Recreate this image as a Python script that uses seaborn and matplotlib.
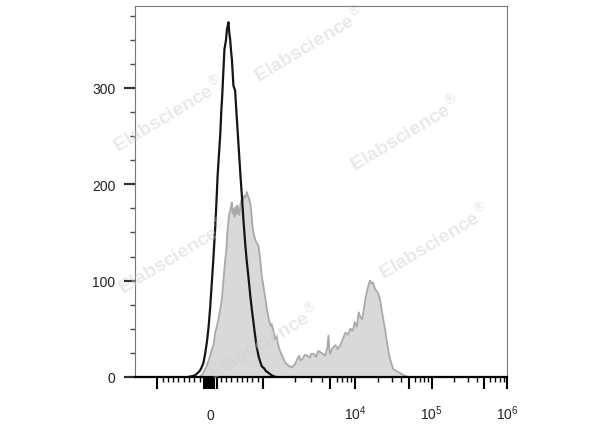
import numpy as np
import matplotlib
matplotlib.use("Agg")
import matplotlib.pyplot as plt
import seaborn as sns

# isotype control histogram (black outline)
black_x = [-420, -330, -280, -240, -200, -170, -130, -95, -60, -30, 0, 30, 60, 95,
           120, 140, 165, 190, 210, 230, 250, 270, 285, 300, 316, 330, 346, 360,
           378, 395, 410, 425, 440, 455, 472, 488, 504, 530, 553, 575, 599, 630,
           660, 690, 723, 755, 788, 820, 849, 880, 913, 945, 976, 1020, 1060,
           1095, 1150, 1220, 1300]
black_y = [0, 1, 2, 4, 6, 9, 14, 24, 37, 52, 72, 97, 122, 155,
           183, 208, 230, 251, 275, 294, 318, 340, 345, 350, 360, 364, 368, 358,
           350, 338, 330, 316, 302, 300, 297, 282, 268, 246, 226, 207, 188, 162,
           140, 121, 104, 86, 70, 56, 43, 31, 22, 16, 11, 9, 6,
           5, 3, 1, 0]

# stained sample histogram (grey filled)
gray_x = [-200, -157, -110, -62, -30, 0, 30, 62, 95, 125, 157, 190, 221, 245,
          264, 285, 302, 315, 326, 342, 358, 375, 392, 410, 425, 440, 460, 478,
          497, 515, 535, 553, 575, 599, 620, 642, 665, 693, 715, 736, 755, 774,
          790, 806, 830, 849, 880, 913, 943, 976, 1025, 1077, 1120, 1160, 1190,
          1220, 1250, 1282, 1320, 1350, 1390, 1436, 1490, 1532, 1600, 1670, 1760,
          1871, 1940, 2000, 2100, 2209, 2300, 2417, 2550, 2724, 2900, 3000, 3191,
          3400, 3600, 3800, 4050, 4341, 4600, 4744, 4850, 4950, 5300, 5760, 6100,
          6587, 7000, 7600, 8200, 8800, 9400, 10000, 10600, 11190, 11800, 12410,
          13000, 13600, 14420, 15000, 15570, 16300, 16960, 18140, 19540, 20930,
          22000, 23130, 24300, 25500, 26800, 28250, 31260, 36530, 42300, 49050]
gray_y = [0, 2, 6, 12, 17, 22, 28, 33, 46, 52, 60, 70, 81, 96,
          109, 122, 129, 140, 150, 160, 168, 172, 176, 181, 170, 174, 166, 176,
          169, 178, 172, 168, 180, 185, 183, 188, 186, 192, 188, 185, 180, 174,
          162, 154, 147, 143, 139, 136, 123, 105, 88, 71, 60, 53, 55,
          50, 44, 39, 42, 36, 30, 26, 22, 19, 15, 13, 11,
          10, 12, 13, 18, 22, 17, 19, 23, 22, 20, 24, 24,
          21, 27, 26, 24, 22, 30, 43, 30, 24, 30, 33, 29,
          33, 38, 46, 44, 50, 48, 57, 52, 67, 62, 60,
          70, 81, 91, 96, 100, 97, 98, 91, 88, 81,
          70, 60, 50, 39, 28, 19, 8, 5, 2, 0]

y_ticks = [0, 100, 200, 300]
x_tick_vals = [-1000, -120, -80, -40, 0, 40, 80, 120, 1000, 5000, 1e4, 5e4, 1e5, 5e5, 1e6]
x_tick_text = ["", "", "", "", "0", "", "", "", "", "",
               r"$\mathregular{10^4}$", "", r"$\mathregular{10^5}$", "",
               r"$\mathregular{10^6}$"]

WATERMARKS = [(0.470, 0.898), (0.089, 0.709), (0.728, 0.660),
              (0.105, 0.326), (0.806, 0.367), (0.349, 0.097)]


# biexponential-like display transform (pixel-ish units)
def biex_fwd(x):
    x = np.asarray(x, dtype=float)
    a = np.abs(x)
    with np.errstate(divide="ignore", invalid="ignore"):
        hi = 53 + 75.3 * np.log10(np.maximum(a, 1000) / 1000) \
            + 18.5 * (1 - 1000 / np.maximum(a, 1000))
    out = np.where(a <= 1000, x * 0.053, np.sign(x) * hi)
    return out


_grid = np.concatenate([-np.logspace(8, 3, 600)[:-1],
                        np.linspace(-1000, 1000, 401),
                        np.logspace(3, 8, 600)[1:]])
_grid_f = biex_fwd(_grid)


def biex_inv(y):
    return np.interp(np.asarray(y, dtype=float), _grid_f, _grid)


def minor_list():
    vals = list(range(-900, 0, 100)) + list(range(200, 1000, 100))
    for dec in [1e3, 1e4, 1e5]:
        for m in [2, 3, 4, 6, 7, 8, 9]:
            vals.append(m * dec)
    return vals


sns.set_style("white")
plt.rcParams["font.family"] = ["Liberation Sans", "DejaVu Sans"]

fig = plt.figure(figsize=(6, 4.27), dpi=100)
ax = fig.add_axes([0.225, 0.1148, 0.62, 0.869])
ax.set_xscale("function", functions=(biex_fwd, biex_inv))

ax.fill_between(gray_x, gray_y, 0, color="#d9d9d9", lw=0, zorder=1)
sns.lineplot(x=gray_x, y=gray_y, sort=False, estimator=None, ax=ax,
             color="#a9a9a9", lw=1.3, zorder=2)
sns.lineplot(x=black_x, y=black_y, sort=False, estimator=None, ax=ax,
             color="#151515", lw=1.6, zorder=3)

ax.set_xlim(-1600, 1e6)
ax.set_ylim(0, 385)

for side in ["left", "top", "right"]:
    ax.spines[side].set_color("#777777")
    ax.spines[side].set_linewidth(0.8)
ax.spines["bottom"].set_color("black")
ax.spines["bottom"].set_linewidth(1.6)
ax.spines["bottom"].set_zorder(4)

ax.tick_params(which="both", top=False, right=False, bottom=True, left=True)
ax.tick_params(axis="x", which="major", direction="out", length=8.5, width=1.5,
               color="black", pad=22, labelsize=10, labelcolor="#222222")
ax.tick_params(axis="x", which="minor", direction="out", length=3.6, width=1.0,
               color="black")
ax.tick_params(axis="y", which="major", direction="out", length=8, width=1.6,
               color="#333333", pad=6, labelsize=10, labelcolor="#222222")
ax.tick_params(axis="y", which="minor", direction="out", length=3.6, width=1.0,
               color="#444444")

ax.set_xticks(x_tick_vals)
ax.set_xticklabels(x_tick_text, va="baseline")
ax.set_xticks(minor_list(), minor=True)
ax.set_yticks(y_ticks)
ax.set_yticks(np.arange(25, 400, 25), minor=True)
ax.set_xlabel("")
ax.set_ylabel("")

for wx, wy in WATERMARKS:
    ax.text(wx, wy, r"Elabscience$^{\circledR}$", transform=ax.transAxes,
            rotation=31, ha="center", va="center", fontsize=14,
            fontweight="bold", color="#cfcfcf", alpha=0.45, zorder=5)

fig.savefig("out.png", dpi=100)
